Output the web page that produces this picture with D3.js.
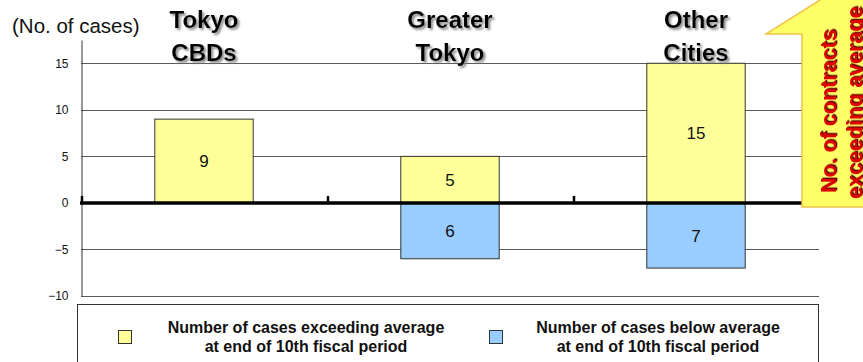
<!DOCTYPE html>
<html>
<head>
<meta charset="utf-8">
<script src="https://cdn.jsdelivr.net/npm/d3@7"></script>
<style>
  html, body { margin: 0; padding: 0; background: #fff; }
  svg { display: block; font-family: "Liberation Sans", Arial, sans-serif; }
</style>
</head>
<body>
<svg id="chart" width="863" height="362"></svg>
<script>
// Contract counts per area, relative to the average at end of the 10th fiscal period
const categories = ["Tokyo CBDs", "Greater Tokyo", "Other Cities"];
const categoryLines = [["Tokyo", "CBDs"], ["Greater", "Tokyo"], ["Other", "Cities"]];
const aboveValues = [9, 5, 15];   // cases exceeding average
const belowValues = [0, 6, 7];    // cases below average
const yTicks = [-10, -5, 0, 5, 10, 15];
const seriesNames = [
  ["Number of cases exceeding average", "at end of 10th fiscal period"],
  ["Number of cases below average", "at end of 10th fiscal period"]
];
const seriesColors = ["#FFFF99", "#99CCFF"];
const unitLabel = "(No. of cases)";
const arrowLines = ["No. of contracts", "exceeding average"];

const svg = d3.select("#chart");

const plot = { left: 81, right: 819, top: 40, bottom: 296 };

const x = d3.scaleBand().domain(categories).range([plot.left, plot.right]);
const y = d3.scaleLinear().domain([-10, 17.5]).range([plot.bottom, plot.top]);
const barW = x.bandwidth() * 0.4;
const barX = c => x(c) + (x.bandwidth() - barW) / 2;

// shadows for the headings and the callout text
const defs = svg.append("defs");
defs.append("filter").attr("id", "headShadow")
  .attr("x", "-10%").attr("y", "-20%").attr("width", "125%").attr("height", "150%")
  .append("feDropShadow")
  .attr("dx", 2).attr("dy", 2).attr("stdDeviation", 0.9)
  .attr("flood-color", "#808080").attr("flood-opacity", 0.9);
defs.append("filter").attr("id", "calloutShadow")
  .attr("x", "-20%").attr("y", "-10%").attr("width", "150%").attr("height", "125%")
  .append("feDropShadow")
  .attr("dx", 1.3).attr("dy", 1.3).attr("stdDeviation", 0.3)
  .attr("flood-color", "#5a0000").attr("flood-opacity", 1);

// horizontal gridlines
svg.append("g").selectAll("line")
  .data(yTicks.filter(t => t !== 0))
  .join("line")
  .attr("x1", plot.left).attr("x2", plot.right)
  .attr("y1", d => Math.round(y(d)) + 0.5).attr("y2", d => Math.round(y(d)) + 0.5)
  .attr("stroke", "#5a5a5a").attr("stroke-width", 1);

// y axis
const yAxis = d3.axisLeft(y).tickValues(yTicks).tickSize(0).tickPadding(13);
const gy = svg.append("g").attr("transform", `translate(${plot.left + 0.5},0)`).call(yAxis);
gy.select(".domain").attr("stroke", "#333");
gy.selectAll("text").attr("font-size", 12).attr("fill", "#111")
  .attr("font-family", "Liberation Sans, Arial, sans-serif");

// bars above zero
svg.append("g").selectAll("rect")
  .data(categories.map((c, i) => ({ c, v: aboveValues[i] })).filter(d => d.v > 0))
  .join("rect")
  .attr("x", d => barX(d.c)).attr("width", barW)
  .attr("y", d => y(d.v)).attr("height", d => y(0) - y(d.v))
  .attr("fill", seriesColors[0]).attr("stroke", "#333").attr("stroke-width", 1);

// bars below zero
svg.append("g").selectAll("rect")
  .data(categories.map((c, i) => ({ c, v: belowValues[i] })).filter(d => d.v > 0))
  .join("rect")
  .attr("x", d => barX(d.c)).attr("width", barW)
  .attr("y", y(0)).attr("height", d => y(-d.v) - y(0))
  .attr("fill", seriesColors[1]).attr("stroke", "#333").attr("stroke-width", 1);

// value labels centred in each bar
const labelData = [];
categories.forEach((c, i) => {
  if (aboveValues[i] > 0) labelData.push({ c, mid: aboveValues[i] / 2, v: aboveValues[i] });
  if (belowValues[i] > 0) labelData.push({ c, mid: -belowValues[i] / 2, v: belowValues[i] });
});
svg.append("g").selectAll("text")
  .data(labelData)
  .join("text")
  .attr("x", d => x(d.c) + x.bandwidth() / 2)
  .attr("y", d => y(d.mid))
  .attr("dy", "0.36em")
  .attr("text-anchor", "middle")
  .attr("font-size", 17).attr("fill", "#111")
  .text(d => d.v);

// zero baseline with category separators
svg.append("line")
  .attr("x1", plot.left - 1).attr("x2", plot.right)
  .attr("y1", y(0)).attr("y2", y(0))
  .attr("stroke", "#000").attr("stroke-width", 3.5);
svg.append("g").selectAll("line")
  .data(categories)
  .join("line")
  .attr("x1", d => x(d) + 1).attr("x2", d => x(d) + 1)
  .attr("y1", y(0)).attr("y2", y(0) - 7)
  .attr("stroke", "#000").attr("stroke-width", 2.5);

// category headings
svg.append("g").selectAll("text")
  .data(categories)
  .join("text")
  .attr("text-anchor", "middle")
  .attr("font-size", 24).attr("font-weight", "bold").attr("fill", "#000")
  .attr("filter", "url(#headShadow)")
  .each(function (d, i) {
    d3.select(this).selectAll("tspan")
      .data(categoryLines[i])
      .join("tspan")
      .attr("x", x(d) + x.bandwidth() / 2)
      .attr("y", (t, j) => 28 + j * 32.5)
      .text(t => t);
  });

// unit label
svg.append("text")
  .attr("x", 12).attr("y", 33)
  .attr("font-size", 20.5).attr("fill", "#111")
  .text(unitLabel);

// legend
const legend = svg.append("g");
legend.append("rect")
  .attr("x", 77.5).attr("y", 304.5).attr("width", 741).attr("height", 80)
  .attr("fill", "#fff").attr("stroke", "#333").attr("stroke-width", 1);
const legendItems = [
  { swatch: 118, textX: 306 },
  { swatch: 489, textX: 658 }
];
legendItems.forEach((it, i) => {
  legend.append("rect")
    .attr("x", it.swatch + 0.5).attr("y", 330.5).attr("width", 13).attr("height", 13)
    .attr("fill", seriesColors[i]).attr("stroke", "#333").attr("stroke-width", 1);
  legend.append("text")
    .attr("text-anchor", "middle")
    .attr("font-size", 16).attr("font-weight", "bold").attr("fill", "#111")
    .selectAll("tspan")
    .data(seriesNames[i])
    .join("tspan")
    .attr("x", it.textX)
    .attr("y", (d, j) => 333 + j * 19)
    .text(d => d);
});

// upward callout arrow on the right
const arrow = svg.append("g");
const arrowPts = [[802, 207], [802, 34], [766, 34], [847, -17], [928, 34], [892, 34], [892, 207]];
arrow.append("polygon")
  .attr("points", arrowPts.map(p => p.join(",")).join(" "))
  .attr("fill", "#FFFF66").attr("stroke", "#F2C24A").attr("stroke-width", 1.5);
const arrowText = [
  { x: 836, y: 193 },
  { x: 862, y: 199 }
];
arrowLines.forEach((line, i) => {
  const p = arrowText[i];
  arrow.append("text")
    .attr("transform", `translate(${p.x},${p.y}) rotate(-90)`)
    .attr("font-size", 21.5).attr("font-weight", "bold")
    .attr("fill", "#E00000")
    .attr("filter", "url(#calloutShadow)")
    .text(line);
});
</script>
</body>
</html>
